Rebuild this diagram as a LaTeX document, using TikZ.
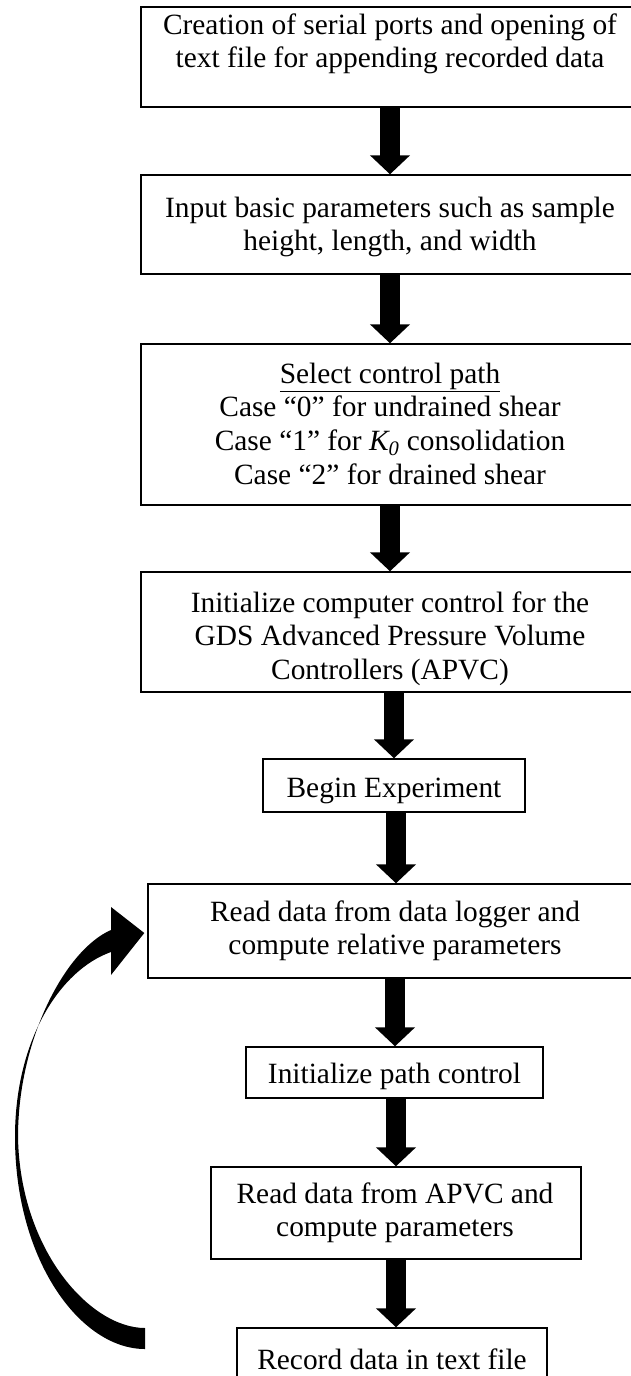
\documentclass[tikz,border=0pt]{standalone}
\usepackage{fontspec}
\setmainfont{Liberation Serif}
\usetikzlibrary{arrows.meta}
\begin{document}
\begin{tikzpicture}[x=1pt,y=-1pt,
  box/.style={draw, line width=1.4pt, rectangle, inner sep=0pt},
  txt/.style={anchor=north, align=center, inner sep=0pt, font=\fontsize{29.4}{33.8}\selectfont},
  fat/.style={line width=20pt, -{Triangle[length=19pt,width=39pt]}}]
\clip (0,0) rectangle (631,1376);
\fill[white] (0,0) rectangle (631,1376);
% boxes
\node[box, minimum width=498pt, minimum height=100pt] (b1) at (390,57) {};
\node[box, minimum width=498pt, minimum height=99pt] (b2) at (390,224.5) {};
\node[box, minimum width=498pt, minimum height=161pt] (b3) at (390,424.5) {};
\node[box, minimum width=498pt, minimum height=120pt] (b4) at (390,632) {};
\node[box, minimum width=262pt, minimum height=53pt] (b5) at (394,785.5) {};
\node[box, minimum width=494pt, minimum height=94pt] (b6) at (395,931) {};
\node[box, minimum width=297pt, minimum height=51pt] (b7) at (394.5,1072.5) {};
\node[box, minimum width=370pt, minimum height=92pt] (b8) at (396,1213) {};
\node[box, minimum width=310pt, minimum height=53pt] (b9) at (392,1354.5) {};
% texts
\node[txt] (t1) at (390,10.3) {\strut Creation of serial ports and opening of\\ \strut text file for appending recorded data};
\node[txt] (t2) at (390,193.3) {\strut Input basic parameters such as sample\\ \strut height, length, and width};
\node[txt] (t3) at (390,359.3) {\strut\underline{Select control path}\\ \strut Case “0” for undrained shear\\ \strut Case “1” for \textit{K\textsubscript{0}} consolidation\\ \strut Case “2” for drained shear};
\node[txt] (t4) at (390,588.3) {\strut Initialize computer control for the\\ \strut GDS Advanced Pressure Volume\\ \strut Controllers (APVC)};
\node[txt] (t5) at (394,773.3) {\strut Begin Experiment};
\node[txt] (t6) at (395,897.3) {\strut Read data from data logger and\\ \strut compute relative parameters};
\node[txt] (t7) at (394.5,1059.3) {\strut Initialize path control};
\node[txt] (t8) at (395,1179.3) {\strut Read data from APVC and\\ \strut compute parameters};
\node[anchor=base, inner sep=0pt, font=\fontsize{29.4}{33.8}\selectfont] (t9) at (392,1369) {Record data in text file};
% straight arrows
\draw[fat] (b1.south) -- (b1.south |- b2.north);
\draw[fat] (b2.south) -- (b2.south |- b3.north);
\draw[fat] (b3.south) -- (b3.south |- b4.north);
\draw[fat] (b5.north |- b4.south) -- (b5.north);
\draw[fat] ([xshift=2pt]b5.south) -- ([xshift=2pt]b5.south |- b6.north);
\draw[fat] (b6.south) -- (b6.south |- b7.north);
\draw[fat] (b8.north |- b7.south) -- (b8.north);
\draw[fat] (b8.south) -- (b8.south |- b9.north);
% curved return arrow
\coordinate (loopend) at (b6.west |- 0,933);
\fill (145,1349) .. controls (80,1349) and (15,1260) .. (15,1137)
  .. controls (15,1040) and (60,970) .. (111,952)
  -- (111,975) -- ([xshift=-3pt]loopend) -- (111,907) -- (111,930)
  .. controls (65,950) and (18,1040) .. (18,1137)
  .. controls (20,1250) and (90,1328) .. (145,1328) -- cycle;
\end{tikzpicture}
\end{document}
